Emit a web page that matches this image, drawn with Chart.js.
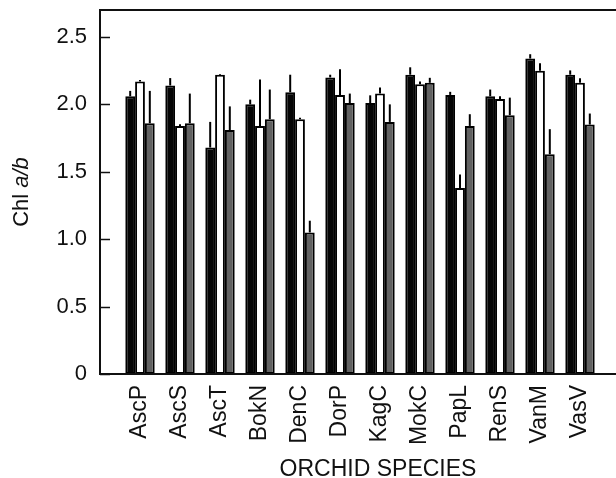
<!DOCTYPE html>
<html>
<head>
<meta charset="utf-8">
<script src="https://cdn.jsdelivr.net/npm/chart.js@4/dist/chart.umd.min.js"></script>
<style>
  html, body { margin: 0; padding: 0; background: #fff; overflow: hidden; }
  #wrap { width: 664px; height: 478px; }
</style>
</head>
<body>
<div id="wrap"><canvas id="c" width="664" height="478"></canvas></div>
<script>
// ---- data ----
const categories = ['AscP','AscS','AscT','BokN','DenC','DorP','KagC','MokC','PapL','RenS','VanM','VasV'];
const seriesBlack = [2.06, 2.14, 1.68, 2.00, 2.09, 2.20, 2.01, 2.22, 2.07, 2.06, 2.34, 2.22];
const errBlack    = [0.04, 0.055, 0.19, 0.035, 0.13, 0.02, 0.057, 0.055, 0.023, 0.05, 0.032, 0.032];
const seriesWhite = [2.17, 1.84, 2.22, 1.84, 1.89, 2.07, 2.08, 2.15, 1.38, 2.04, 2.25, 2.16];
const errWhite    = [0.01, 0.012, 0.005, 0.345, 0.01, 0.19, 0.045, 0.02, 0.10, 0.02, 0.055, 0.033];
const seriesGray  = [1.86, 1.86, 1.81, 1.89, 1.05, 2.01, 1.87, 2.16, 1.84, 1.92, 1.63, 1.85];
const errGray     = [0.24, 0.22, 0.175, 0.22, 0.087, 0.07, 0.13, 0.037, 0.087, 0.13, 0.186, 0.082];
const yTickValues = [0, 0.5, 1.0, 1.5, 2.0, 2.5];
const yTickLabels = ['0', '0.5', '1.0', '1.5', '2.0', '2.5'];
const yMax = 2.7;
const xTitle = 'ORCHID SPECIES';
const yTitleNormal = 'Chl ';
const yTitleItalic = 'a/b';

// padding slots so the category positions match the original frame
const pad = (arr, fill) => [fill].concat(arr, [fill, fill]);
const labels = pad(categories, '');
const errors = [pad(errBlack, null), pad(errWhite, null), pad(errGray, null)];

const FONT = "'Liberation Sans', Arial, Helvetica, sans-serif";

const framePlugin = {
  id: 'frame',
  afterDatasetsDraw(chart) {
    const ctx = chart.ctx;
    const a = chart.chartArea;
    const ys = chart.scales.y;
    // error bars (upper only)
    ctx.save();
    ctx.strokeStyle = '#000';
    ctx.lineWidth = 2;
    chart.data.datasets.forEach((ds, i) => {
      const meta = chart.getDatasetMeta(i);
      meta.data.forEach((el, j) => {
        const v = ds.data[j];
        const e = errors[i][j];
        if (v == null || e == null) return;
        const yTop = ys.getPixelForValue(v + e);
        ctx.beginPath();
        ctx.moveTo(el.x, el.y);
        ctx.lineTo(el.x, yTop);
        ctx.stroke();
      });
    });
    // frame
    ctx.strokeStyle = '#111';
    ctx.lineWidth = 2;
    ctx.beginPath();
    ctx.moveTo(a.right + 5, a.top);
    ctx.lineTo(a.left, a.top);
    ctx.lineTo(a.left, a.bottom);
    ctx.lineTo(a.right + 5, a.bottom);
    ctx.stroke();
    // inward y ticks
    ctx.lineWidth = 1.5;
    yTickValues.forEach(v => {
      const y = Math.round(ys.getPixelForValue(v)) + 0.5;
      ctx.beginPath();
      ctx.moveTo(a.left, y);
      ctx.lineTo(a.left + 10, y);
      ctx.stroke();
    });
    // titles
    ctx.fillStyle = '#111';
    ctx.font = '23px ' + FONT;
    ctx.textAlign = 'center';
    ctx.textBaseline = 'alphabetic';
    ctx.fillText(xTitle, 378, 476);
    // y title with italic part
    const FS = 22;
    ctx.translate(28, 192);
    ctx.rotate(-Math.PI / 2);
    ctx.textAlign = 'left';
    ctx.font = FS + 'px ' + FONT;
    const w1 = ctx.measureText(yTitleNormal).width;
    ctx.font = 'italic ' + FS + 'px ' + FONT;
    const w2 = ctx.measureText(yTitleItalic).width;
    const start = -(w1 + w2) / 2;
    ctx.font = FS + 'px ' + FONT;
    ctx.fillText(yTitleNormal, start, 0);
    ctx.font = 'italic ' + FS + 'px ' + FONT;
    ctx.fillText(yTitleItalic, start + w1, 0);
    ctx.restore();
  }
};

const barCommon = { borderColor: '#000', borderWidth: 2, categoryPercentage: 0.735, barPercentage: 1.0, borderSkipped: false };

new Chart(document.getElementById('c'), {
  type: 'bar',
  data: {
    labels: labels,
    datasets: [
      Object.assign({ label: 'A', data: pad(seriesBlack, null), backgroundColor: '#050505' }, barCommon),
      Object.assign({ label: 'B', data: pad(seriesWhite, null), backgroundColor: '#ffffff' }, barCommon),
      Object.assign({ label: 'C', data: pad(seriesGray, null), backgroundColor: '#626262' }, barCommon)
    ]
  },
  options: {
    responsive: false,
    animation: false,
    devicePixelRatio: 1,
    layout: { padding: { top: 10, right: 4, left: 0, bottom: 0 } },
    plugins: { legend: { display: false }, tooltip: { enabled: false }, title: { display: false } },
    scales: {
      x: {
        type: 'category',
        offset: false,
        grid: { display: false, drawTicks: false },
        border: { display: false },
        ticks: {
          autoSkip: false, minRotation: 90, maxRotation: 90, padding: 11,
          color: '#111', font: { family: FONT, size: 23 }
        },
        afterFit(scale) {
          scale.height = 104;
          scale.paddingLeft = 0; scale.paddingRight = 0;
          scale.paddingTop = 0; scale.paddingBottom = 0;
        }
      },
      y: {
        min: 0, max: yMax,
        grid: { display: false, drawTicks: false },
        border: { display: false },
        ticks: {
          padding: 13, color: '#111', font: { family: FONT, size: 22 },
          callback(value) {
            const k = yTickValues.findIndex(t => Math.abs(t - value) < 1e-9);
            return k >= 0 ? yTickLabels[k] : '';
          }
        },
        afterBuildTicks(scale) { scale.ticks = yTickValues.map(v => ({ value: v })); },
        afterFit(scale) {
          scale.width = 100;
          scale.paddingLeft = 0; scale.paddingRight = 0;
          scale.paddingTop = 0; scale.paddingBottom = 0;
        }
      }
    }
  },
  plugins: [framePlugin]
});
</script>
</body>
</html>
